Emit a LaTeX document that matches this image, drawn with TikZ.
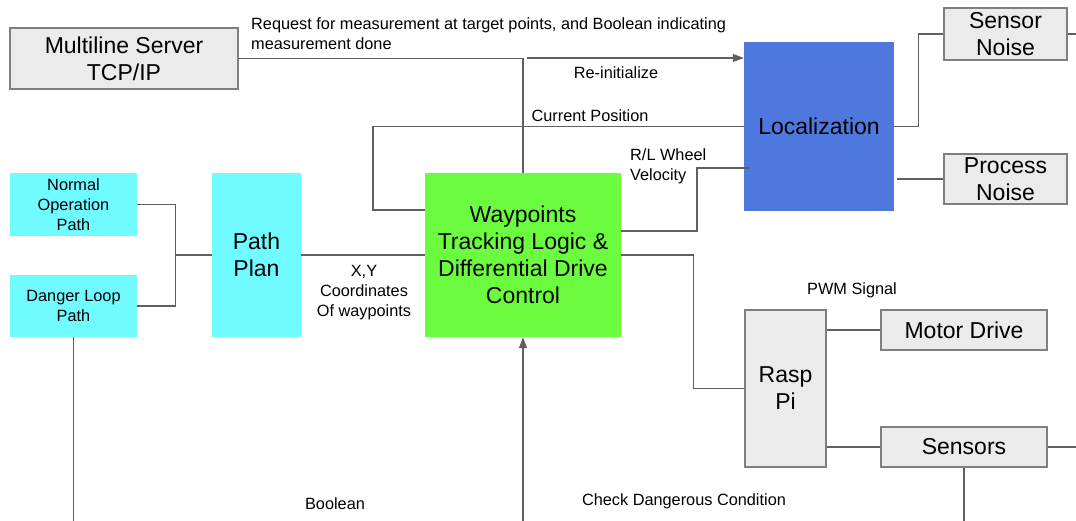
\documentclass[tikz,border=0pt]{standalone}
\usepackage{fontspec}
\setmainfont{Liberation Sans}
\usetikzlibrary{arrows.meta}
\definecolor{boxgray}{HTML}{EBEBEB}
\definecolor{edgegray}{HTML}{7F7F7F}
\definecolor{wire}{HTML}{5F5F5F}
\definecolor{cyanbox}{HTML}{6FFBFF}
\definecolor{greenbox}{HTML}{6BFC3F}
\definecolor{bluebox}{HTML}{4F78DF}
\newcommand\smallf{\fontsize{16.3}{19.7}\selectfont}
\newcommand\bigf{\fontsize{23}{27}\selectfont}
\begin{document}
\begin{tikzpicture}[x=1pt,y=-1pt,
 graybox/.style={draw=edgegray,line width=1.4pt,fill=boxgray,inner sep=0pt,align=center,font=\bigf},
 colbox/.style={draw=none,inner sep=0pt,align=center,font=\bigf},
 wirel/.style={draw=wire,line width=1.3pt},
 lbl/.style={inner sep=0pt,font=\smallf,align=left},
 arr/.style={-{Triangle[length=11pt,width=8pt]}}
]
\useasboundingbox (0,0) rectangle (1076,521);
\coordinate (redge) at (1076,0);
\coordinate (bedge) at (0,521);

% boxes
\node[graybox,minimum width=228pt,minimum height=61pt] (srv) at (124,58.5) {Multiline Server\\TCP/IP};
\node[colbox,fill=bluebox,minimum width=150pt,minimum height=169pt] (loc) at (819,126.5) {Localization};
\node[graybox,minimum width=123pt,minimum height=52pt] (sn) at (1005.5,34) {Sensor\\Noise};
\node[graybox,minimum width=123pt,minimum height=50pt] (pn) at (1005.5,179) {Process\\Noise};
\node[colbox,fill=greenbox,minimum width=196pt,minimum height=164pt] (wp) at (523,255) {Waypoints\\Tracking Logic \&\\Differential Drive\\Control};
\node[colbox,fill=cyanbox,font=\smallf,minimum width=127pt,minimum height=63pt] (np) at (73.5,204.5) {Normal\\Operation\\Path};
\node[colbox,fill=cyanbox,font=\smallf,minimum width=127pt,minimum height=62pt] (dl) at (73.5,306) {Danger Loop\\Path};
\node[colbox,fill=cyanbox,minimum width=89pt,minimum height=164pt] (pp) at (256.5,255) {Path\\Plan};
\node[graybox,minimum width=81pt,minimum height=157pt] (rp) at (785.5,388.5) {Rasp\\Pi};
\node[graybox,minimum width=166pt,minimum height=40pt] (md) at (964,330) {Motor Drive};
\node[graybox,minimum width=166pt,minimum height=40pt] (ss) at (964,447) {Sensors};

% helper coordinates
\coordinate (reinit) at (527,58);
\coordinate (cpk) at (373,210);
\coordinate (rl1) at (697,168);

% connectors
\draw[wirel] (srv.east) -| (wp.north);
\draw[wirel,arr] (reinit) -- (reinit -| loc.west);
\draw[wirel] (loc.west) -| (cpk) -- (cpk -| wp.west);
\draw[wirel] (loc.east) -- ++(24,0) |- (sn.west);
\draw[wirel] (sn.east) -- (sn.east -| redge);
\draw[wirel] ([xshift=3pt]pn.west -| loc.east) -- (pn.west);
\draw[wirel] ([yshift=24pt]wp.east) -| (rl1) -- ([xshift=6pt]rl1 -| loc.west);
\draw[wirel] (wp.east) -- ++(72,0) |- (rp.west);
\draw[wirel] (rp.east |- md.west) -- (md.west);
\draw[wirel] (rp.east |- ss.west) -- (ss.west);
\draw[wirel] (ss.east) -- (ss.east -| redge);
\draw[wirel] (ss.south) -- (ss.south |- bedge);
\draw[wirel,arr] (wp.south |- bedge) -- (wp.south);
\draw[wirel] (dl.south) -- (dl.south |- bedge);
\draw[wirel] (np.east) -- ++(38,0) |- (dl.east);
\draw[wirel] (pp.west) -- ++(-37,0);
\draw[wirel] (pp.east) -- (wp.west);

% labels
\node[lbl,anchor=west] (lreq) at (251,33.5) {Request for measurement at target points, and Boolean indicating\\measurement done};
\node[lbl] (lre) at (616,72.5) {Re-initialize};
\node[lbl] (lcp) at (590,115.5) {Current Position};
\node[lbl,anchor=west] (lrl) at (630,166.5) {R/L Wheel\\Velocity};
\node[lbl,align=center] (lxy) at (364,292.5) {X,Y\\Coordinates\\Of waypoints};
\node[lbl] (lpwm) at (852,290.5) {PWM Signal};
\node[lbl] (lchk) at (684,501.5) {Check Dangerous Condition};
\node[lbl] (lbool) at (335,503.5) {Boolean};
\end{tikzpicture}
\end{document}
